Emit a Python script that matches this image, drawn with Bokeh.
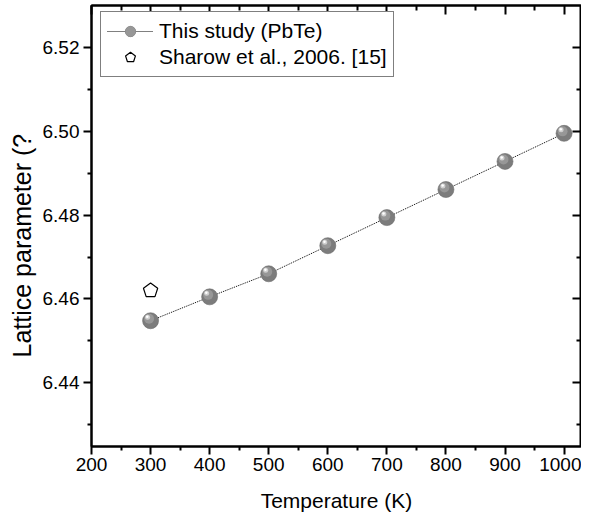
import math
from bokeh.plotting import figure
from bokeh.models import (Range1d, LinearAxis, FixedTicker, Legend, LegendItem, Title,
                          ColumnDataSource, PrintfTickFormatter, CustomJSTickFormatter)
from bokeh.transform import dodge
from bokeh.embed import file_html
from bokeh.resources import INLINE

# ---- data ----
temps = [300, 400, 500, 600, 700, 800, 900, 1000]
lattice = [6.4548, 6.4605, 6.4660, 6.4727, 6.4794, 6.4861, 6.4928, 6.4995]
ref_temps = [300]
ref_lattice = [6.4620]
x_ticks = [200, 300, 400, 500, 600, 700, 800, 900, 1000]
x_minor = [250, 350, 450, 550, 650, 750, 850, 950]
y_ticks = [6.44, 6.46, 6.48, 6.50, 6.52]
y_minor = [6.43, 6.45, 6.47, 6.49, 6.51]
label_study = "This study (PbTe)"
label_ref = "Sharow et al., 2006. [15]"
x_title = "Temperature (K)"
y_title = "Lattice parameter (?"

SANS = "'Liberation Sans', Arial, sans-serif"

X0, X1 = 200, 1029.5
Y0, Y1 = 6.4248, 6.5300
W, H = 581, 519
ML, MR, MT, MB = 91, 0, 5, 73
FW, FH = W - ML - MR, H - MT - MB
px_x = (X1 - X0) / FW
px_y = (Y1 - Y0) / FH

p = figure(width=W, height=H, x_range=Range1d(X0, X1), y_range=Range1d(Y0, Y1),
           output_backend="svg", toolbar_location=None,
           min_border_left=ML, min_border_right=MR, min_border_top=MT, min_border_bottom=MB)
p.grid.visible = False
p.outline_line_color = "black"
p.outline_line_width = 2
p.background_fill_color = "white"
p.border_fill_color = "white"

for ax in (p.xaxis[0], p.yaxis[0]):
    ax.axis_line_width = 2
    ax.major_tick_line_width = 2
    ax.minor_tick_line_width = 2
    ax.major_tick_out = 8
    ax.major_tick_in = 0
    ax.minor_tick_out = 4
    ax.minor_tick_in = 0
    ax.major_label_text_font = SANS
    ax.major_label_text_font_size = "19px"
    ax.major_label_text_color = "black"
    ax.axis_label_text_font_style = "normal"
    ax.axis_label_text_color = "black"
    ax.axis_label_text_font = SANS

p.xaxis[0].ticker = FixedTicker(ticks=x_ticks, minor_ticks=x_minor)
p.yaxis[0].ticker = FixedTicker(ticks=y_ticks, minor_ticks=y_minor)
p.yaxis[0].formatter = PrintfTickFormatter(format="%.2f")
p.xaxis[0].axis_label = x_title
p.xaxis[0].axis_label_text_font_size = "21px"
p.xaxis[0].major_label_standoff = 3
p.xaxis[0].axis_label_standoff = 15
p.yaxis[0].major_label_standoff = 4

ytitle = Title(text=y_title, align="left", offset=89, standoff=8,
               text_font=SANS, text_font_size="25px", text_font_style="normal",
               text_color="black")
p.add_layout(ytitle, "left")

for loc in ("above", "right"):
    ax = LinearAxis()
    if loc == "above":
        ax.ticker = FixedTicker(ticks=x_ticks, minor_ticks=x_minor)
    else:
        ax.ticker = FixedTicker(ticks=y_ticks, minor_ticks=y_minor)
    ax.formatter = CustomJSTickFormatter(code="return ''")
    ax.axis_line_width = 2
    ax.major_tick_line_width = 2
    ax.minor_tick_line_width = 2
    ax.major_tick_in = 9
    ax.major_tick_out = 0
    ax.minor_tick_in = 5
    ax.minor_tick_out = 0
    ax.major_label_standoff = 0
    p.add_layout(ax, loc)

src = ColumnDataSource(dict(x=temps, y=lattice))
line_r = p.line("x", "y", source=src, line_color="black", line_width=1, line_dash="1 1")
base = p.scatter("x", "y", source=src, size=16, fill_color="#7c7c7c", line_color="#6a6a6a", line_width=0.6)
h1 = p.scatter(x=dodge("x", -1.5 * px_x), y=dodge("y", 2 * px_y), source=src, size=10,
               fill_color="#979797", line_color=None)
h2 = p.scatter(x=dodge("x", -3 * px_x), y=dodge("y", 3.5 * px_y), source=src, size=5,
               fill_color="#cfcfcf", line_color=None)
h3 = p.scatter(x=dodge("x", -3.3 * px_x), y=dodge("y", 4 * px_y), source=src, size=2.5,
               fill_color="white", line_color=None)

rsrc = ColumnDataSource(dict(x=ref_temps, y=ref_lattice))
pent = None
try:
    from bokeh.models.glyphs import Ngon
    g = Ngon(x="x", y="y", radius=7.5, radius_units="screen", n=5, angle=0,
             fill_color="white", line_color="black", line_width=1.2)
    pent = p.add_glyph(rsrc, g)
except Exception:
    xs, ys = [], []
    for xv, yv in zip(ref_temps, ref_lattice):
        xs.append([xv + 7.5 * math.cos(math.pi / 2 + 2 * math.pi * k / 5) * px_x for k in range(5)])
        ys.append([yv + 7.5 * math.sin(math.pi / 2 + 2 * math.pi * k / 5) * px_y for k in range(5)])
    pent = p.patches(xs, ys, fill_color="white", line_color="black", line_width=1.2)

legend = Legend(items=[LegendItem(label=label_study, renderers=[line_r, base, h1]),
                       LegendItem(label=label_ref, renderers=[pent])],
                location=(9, 369))
legend.border_line_color = "black"
legend.border_line_width = 1
legend.background_fill_alpha = 1
legend.padding = 6
legend.spacing = 0
legend.margin = 0
legend.glyph_width = 46
legend.glyph_height = 26
legend.label_height = 26
legend.label_standoff = 6
legend.label_text_font = SANS
legend.label_text_font_size = "21px"
legend.label_text_color = "black"
legend.label_text_baseline = "middle"
p.add_layout(legend, "center")

open("out.html", "w").write(file_html(p, INLINE))
